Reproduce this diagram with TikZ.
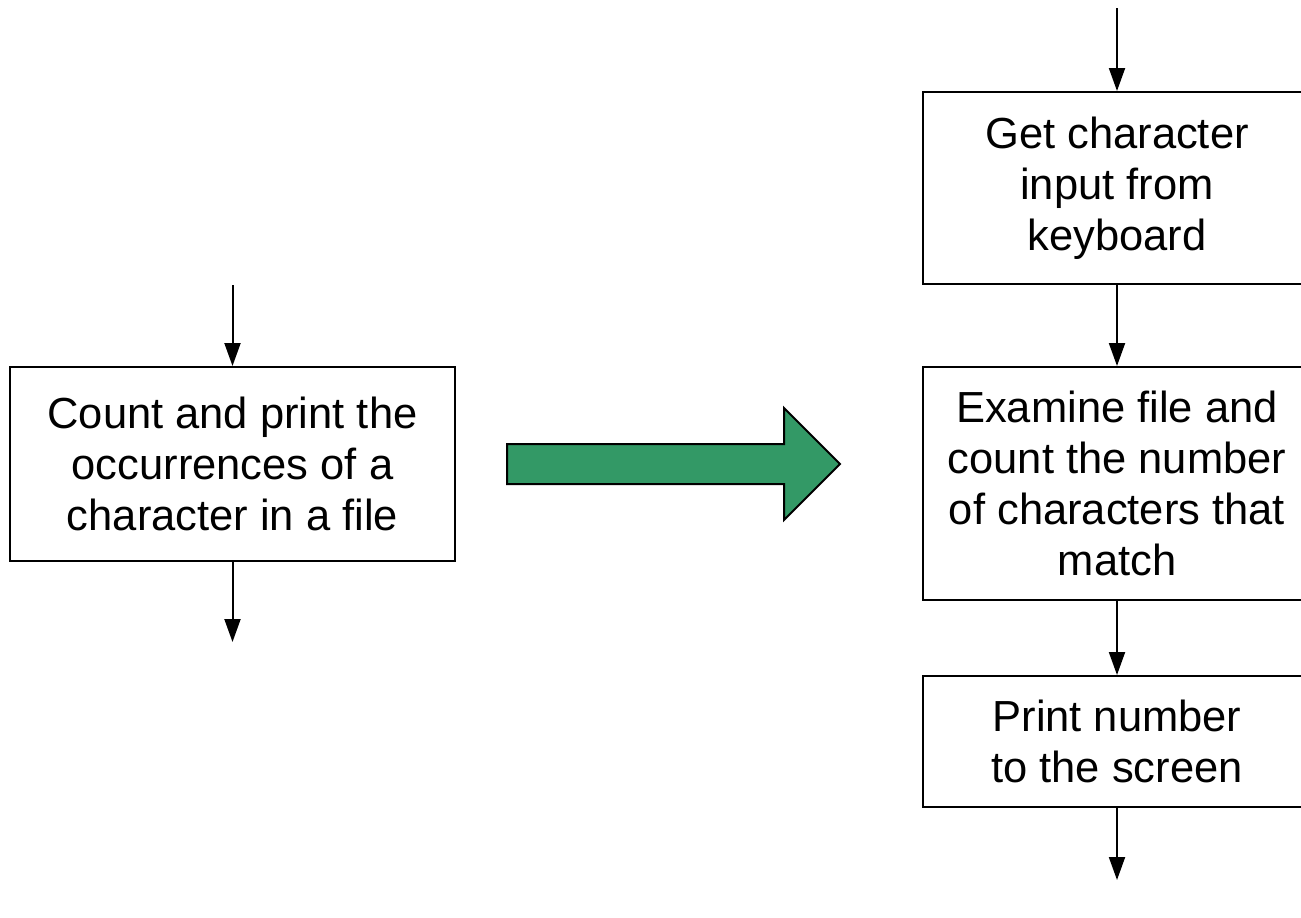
\documentclass[tikz,border=0pt]{standalone}
\usepackage{fontspec}
\setmainfont{Liberation Sans}
\usetikzlibrary{arrows.meta}
\definecolor{arrowgreen}{RGB}{51,153,102}
\tikzset{
  procbox/.style={draw=black, line width=2pt, fill=white, rectangle, align=center,
    inner sep=0pt, font=\fontsize{43.5}{51}\selectfont},
  flow/.style={draw=black, line width=2pt, -{Triangle[length=23pt,width=16pt]}},
  bigarrow/.style={draw=black, line width=2pt, fill=arrowgreen, line join=miter}
}
\begin{document}
\begin{tikzpicture}[x=1pt,y=-1pt]
\useasboundingbox (0,0) rectangle (1301,918);
\clip (0,0) rectangle (1301,918);
% left box
\node[procbox, minimum width=445pt, minimum height=194pt] (main) at (232.5,464)
  {Count and print the\\occurrences of a\\character in a file};
\coordinate (mainin) at (232.5,285);
\coordinate (mainout) at (232.5,642);
\draw[flow] (mainin) -- (main.north);
\draw[flow] (main.south) -- (mainout);
% green arrow
\draw[bigarrow] (507,444) -- (784,444) -- (784,408) -- (840,464) -- (784,520) -- (784,484) -- (507,484) -- cycle;
% right column
\node[procbox, minimum width=388pt, minimum height=192pt] (get) at (1117,188)
  {Get character\\input from\\keyboard};
\node[procbox, minimum width=388pt, minimum height=233pt] (exam) at (1117,483.5)
  {Examine file and\\count the number\\of characters that\\match};
\node[procbox, minimum width=388pt, minimum height=131pt] (prnt) at (1117,741.5)
  {Print number\\to the screen};
\coordinate (rin) at (1117,8);
\coordinate (rout) at (1117,880);
\draw[flow] (rin) -- (get.north);
\draw[flow] (get.south) -- (exam.north);
\draw[flow] (exam.south) -- (prnt.north);
\draw[flow] (prnt.south) -- (rout);
\end{tikzpicture}
\end{document}
